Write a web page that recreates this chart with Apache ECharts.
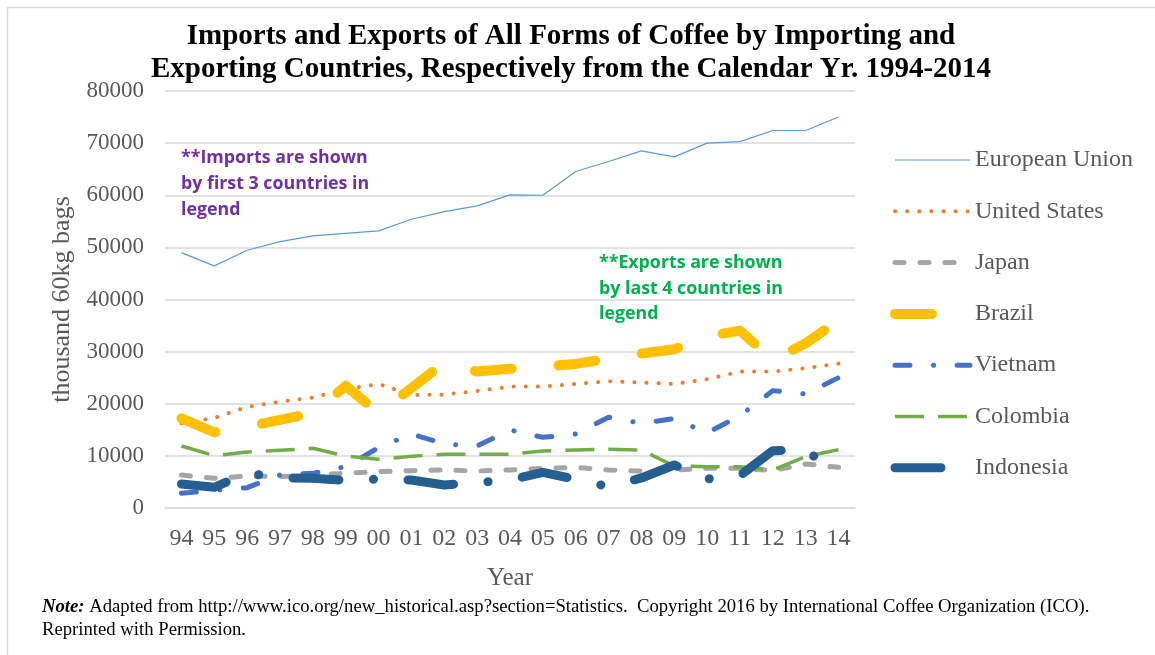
<!DOCTYPE html>
<html>
<head>
<meta charset="utf-8">
<script src="https://cdn.jsdelivr.net/npm/echarts@6/dist/echarts.min.js"></script>
<style>
html,body{margin:0;padding:0;background:#fff;}
#chart{width:1155px;height:655px;}
</style>
</head>
<body>
<div id="chart"></div>
<script>
// ---- data (thousand 60kg bags) ----
const years = ['94','95','96','97','98','99','00','01','02','03','04','05','06','07','08','09','10','11','12','13','14'];
const yTicks = { min: 0, max: 80000, step: 10000 };
const europeanUnion = [49000,46450,49450,51100,52200,52700,53170,55400,56870,57970,60080,60000,64550,66470,68520,67370,70000,70300,72420,72420,75000];
const unitedStates  = [16250,17270,19400,20380,21180,22800,23780,21690,21750,22460,23290,23290,23800,24310,24060,23800,24700,26170,26170,26810,27700];
const japan         = [6330,5690,6140,6010,6330,6650,6970,7170,7290,7100,7290,7610,7800,7290,7100,7290,7610,7610,7170,8440,7800];
const brazil        = [17210,14530,15600,16890,18230,23420,18200,23000,27900,26170,26700,27130,27640,28660,29620,30450,32950,34030,28400,31600,36000];
const vietnam       = [2810,3390,3900,6330,6650,7930,11580,14200,12280,11900,14970,13560,14200,17400,16250,17150,14400,17720,22520,21880,25000];
const colombia      = [11900,10040,10750,11070,11450,9980,9340,9920,10300,10300,10300,10940,11130,11260,11100,8060,7930,7930,7290,9850,11200];
const indonesia     = [4610,3970,6720,5760,5690,5310,5560,5370,4410,4860,5370,6850,5500,4100,5760,8250,5570,6200,11000,11130,6300];

const seriesNames = ['European Union','United States','Japan','Brazil','Vietnam','Colombia','Indonesia'];
const seriesData = [europeanUnion, unitedStates, japan, brazil, vietnam, colombia, indonesia];

const titleLines = ['Imports and Exports of All Forms of Coffee by Importing and',
                    'Exporting Countries, Respectively from the Calendar Yr. 1994-2014'];
const importNote = ['**Imports are shown','by first 3 countries in','legend'];
const exportNote = ['**Exports are shown','by last 4 countries in','legend'];

// ---- styles ----
const styles = [
  {color:'#5B9BD5', width:1.2, type:'solid', cap:'butt'},
  {color:'#ED7D31', width:4, type:[0.1,12], cap:'round'},
  {color:'#A5A5A5', width:5, type:[9,16], cap:'round'},
  {color:'#FFC000', width:10, type:[37,47], cap:'round'},
  {color:'#4472C4', width:5, type:[15,23.5,0.1,23.5], cap:'round'},
  {color:'#70AD47', width:3.5, type:[29,14], cap:'butt'},
  {color:'#255E91', width:9, type:[46,34.5,0.1,34.5], cap:'round'}
];

const serif = '"Liberation Serif","Times New Roman",serif';
const chart = echarts.init(document.getElementById('chart'));

const series = seriesNames.map((n,i)=>({
  name:n, type:'line', data:seriesData[i], symbol:'none', showSymbol:false, smooth:false,
  lineStyle:{color:styles[i].color, width:styles[i].width, type:styles[i].type, cap:styles[i].cap, join:'round'},
  itemStyle:{color:styles[i].color},
  emphasis:{disabled:true}, z: 2+i
}));

const graphics = [
  {type:'rect', shape:{x:7.5,y:7.5,width:1300,height:800}, style:{fill:'none', stroke:'#D9D9D9', lineWidth:1.5}, silent:true, z:0},
  {type:'text', x:571, y:37, style:{text:titleLines[0], font:'bold 29px '+serif, fill:'#000', textAlign:'center', textVerticalAlign:'middle'}},
  {type:'text', x:571, y:70, style:{text:titleLines[1], font:'bold 29px '+serif, fill:'#000', textAlign:'center', textVerticalAlign:'middle'}},
  {type:'text', x:42, y:596, style:{
    text:'{b|Note:} Adapted from http://www.ico.org/new_historical.asp?section=Statistics.  Copyright 2016 by International Coffee Organization (ICO).\nReprinted with Permission.',
    font:'18.7px '+serif, fill:'#000', lineHeight:23,
    rich:{b:{fontStyle:'italic', fontWeight:'bold', fontSize:18.7, fontFamily:'Liberation Serif', fill:'#000', lineHeight:23}}
  }}
];
importNote.forEach((t,i)=>graphics.push({type:'text', x:181, y:158+i*26, z:10, style:{text:t, font:'bold 17.8px "Open Sans", Lato, sans-serif', fill:'#7030A0', textVerticalAlign:'middle'}}));
exportNote.forEach((t,i)=>graphics.push({type:'text', x:599, y:263+i*25.5, z:10, style:{text:t, font:'bold 17.8px "Open Sans", Lato, sans-serif', fill:'#00B050', textVerticalAlign:'middle'}}));

chart.setOption({
  animation:false,
  backgroundColor:'#fff',
  grid:{left:165, right:300, top:91, bottom:147, containLabel:false},
  legend:{
    orient:'vertical', left:885, top:143, itemWidth:75, itemHeight:20, itemGap:27.3,
    data:seriesNames,
    textStyle:{fontFamily:serif, fontSize:24, color:'#595959'},
    lineStyle:{width:'inherit', opacity:1},
    itemStyle:{opacity:0},
    selectedMode:false
  },
  xAxis:{
    type:'category', data:years, boundaryGap:true,
    axisLine:{show:true, lineStyle:{color:'#D9D9D9', width:1.5}},
    axisTick:{show:false},
    axisLabel:{interval:0, fontFamily:serif, fontSize:24, color:'#595959', margin:19},
    name:'Year', nameLocation:'middle', nameGap:58,
    nameTextStyle:{fontFamily:serif, fontSize:25, color:'#595959'}
  },
  yAxis:{
    type:'value', min:yTicks.min, max:yTicks.max, interval:yTicks.step,
    axisLine:{show:false}, axisTick:{show:false},
    splitLine:{lineStyle:{color:'#D9D9D9', width:1.5}},
    axisLabel:{fontFamily:serif, fontSize:23, color:'#595959', margin:21, formatter:(v)=>String(v)},
    name:'thousand 60kg bags', nameLocation:'middle', nameGap:82,
    nameTextStyle:{fontFamily:serif, fontSize:26, color:'#595959'}
  },
  series:series,
  graphic:graphics
});
</script>
</body>
</html>
